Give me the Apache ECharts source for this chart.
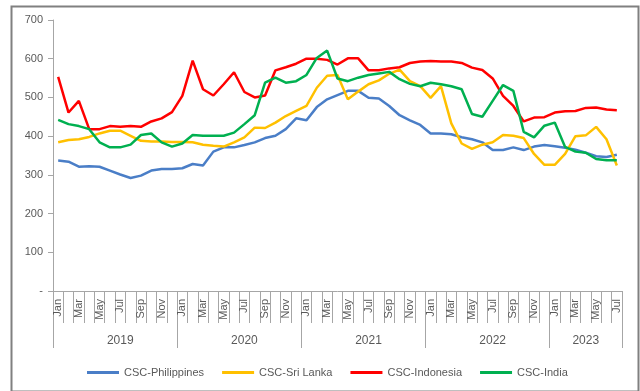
<!DOCTYPE html>
<html>
<head>
<meta charset="utf-8">
<script src="https://cdn.jsdelivr.net/npm/echarts@6/dist/echarts.min.js"></script>
<style>
html,body{margin:0;padding:0;background:#fff;}
#chart{width:640px;height:391px;}
</style>
</head>
<body>
<div id="chart"></div>
<script>
// ---- data ----
const years = ['2019', '2020', '2021', '2022', '2023'];
const monthNames = ['Jan','Feb','Mar','Apr','May','Jun','Jul','Aug','Sep','Oct','Nov','Dec'];
const monthsInYear = [12, 12, 12, 12, 7];
const yearLabelIndex = [6, 18, 30, 42, 51];
const yTicks = [0, 100, 200, 300, 400, 500, 600, 700];

const philippines = [337,334,321,322,321,311,301,292,298,311,315,315,
  317,328,324,360,371,371,377,384,395,401,418,446,
  441,475,495,506,517,517,499,497,478,454,441,429,
  407,407,405,397,392,384,364,364,371,364,373,377,
  374,370,365,357,348,346,352];
const sriLanka = [384,390,392,398,407,414,414,401,388,386,386,385,
  385,384,378,375,373,384,397,422,421,435,452,465,
  478,525,556,558,495,515,534,544,561,572,542,529,
  499,529,433,381,367,378,384,403,401,395,354,326,
  326,354,400,402,424,392,324];
const indonesia = [553,461,491,418,418,426,424,426,424,438,446,462,
  504,595,521,505,534,565,514,500,505,570,578,587,
  600,600,597,585,601,601,570,570,575,578,589,593,
  594,593,593,589,577,571,549,504,478,438,448,449,
  461,464,465,473,474,469,467];
const india = [442,431,426,418,384,371,371,378,403,407,384,373,
  381,403,401,401,401,409,431,454,538,551,538,542,
  558,602,621,549,542,551,558,562,566,547,535,529,
  538,534,529,521,457,450,491,532,517,411,397,427,
  435,372,360,357,341,338,338];

const seriesNames = ['CSC-Philippines', 'CSC-Sri Lanka', 'CSC-Indonesia', 'CSC-India'];
const seriesData = [philippines, sriLanka, indonesia, india];
const seriesColors = ['#4A7EC7', '#FFC000', '#FF0000', '#00B050'];

// categories built from year/month lists
const categories = [];
years.forEach((y, yi) => {
  for (let m = 0; m < monthsInYear[yi]; m++) categories.push(y + '-' + monthNames[m]);
});

const FONT = "'Liberation Sans', Arial, sans-serif";
const TEXT = '#595959';
const AXIS = '#A6A6A6';

const chart = echarts.init(document.getElementById('chart'), null, {renderer: 'canvas'});
chart.setOption({
  animation: false,
  backgroundColor: '#fff',
  textStyle: {fontFamily: FONT},
  graphic: [{
    type: 'rect',
    left: 9, top: 4,
    shape: {width: 627, height: 385},
    style: {fill: 'none', stroke: '#808080', lineWidth: 2},
    silent: true
  }],
  grid: {left: 53, right: 18, top: 20, bottom: 100, containLabel: false},
  legend: {
    data: seriesNames,
    left: 82, top: 362,
    icon: 'rect',
    itemWidth: 32, itemHeight: 3,
    itemGap: 18,
    textStyle: {fontFamily: FONT, fontSize: 11, color: TEXT}
  },
  xAxis: [{
    type: 'category',
    data: categories,
    boundaryGap: true,
    position: 'bottom',
    axisLine: {show: true, lineStyle: {color: AXIS, width: 1}},
    axisTick: {show: true, interval: 0, length: 32, lineStyle: {color: AXIS}},
    axisLabel: {
      interval: 1, rotate: 90, margin: 8,
      fontFamily: FONT, fontSize: 11, color: TEXT,
      formatter: v => v.split('-')[1]
    },
    splitLine: {show: false}
  }, {
    type: 'category',
    data: categories,
    boundaryGap: true,
    position: 'bottom',
    axisLine: {show: false},
    axisTick: {show: true, length: 57, interval: (i) => i % 12 === 0, lineStyle: {color: AXIS}},
    axisLabel: {
      interval: (i) => yearLabelIndex.indexOf(i) >= 0,
      margin: 44,
      fontFamily: FONT, fontSize: 12, color: TEXT,
      formatter: v => v.split('-')[0]
    },
    splitLine: {show: false}
  }],
  yAxis: {
    type: 'value',
    min: yTicks[0], max: yTicks[yTicks.length - 1], interval: 100,
    axisLine: {show: true, lineStyle: {color: AXIS}},
    axisTick: {show: true, length: 5, lineStyle: {color: AXIS}},
    axisLabel: {
      margin: 10, fontFamily: FONT, fontSize: 11, color: TEXT,
      formatter: v => v === 0 ? '-' : String(v)
    },
    splitLine: {show: false}
  },
  series: seriesNames.map((name, k) => ({
    name: name,
    type: 'line',
    xAxisIndex: 0,
    data: seriesData[k],
    symbol: 'none',
    smooth: false,
    color: seriesColors[k],
    lineStyle: {width: 2.5, color: seriesColors[k]}
  }))
});
</script>
</body>
</html>
